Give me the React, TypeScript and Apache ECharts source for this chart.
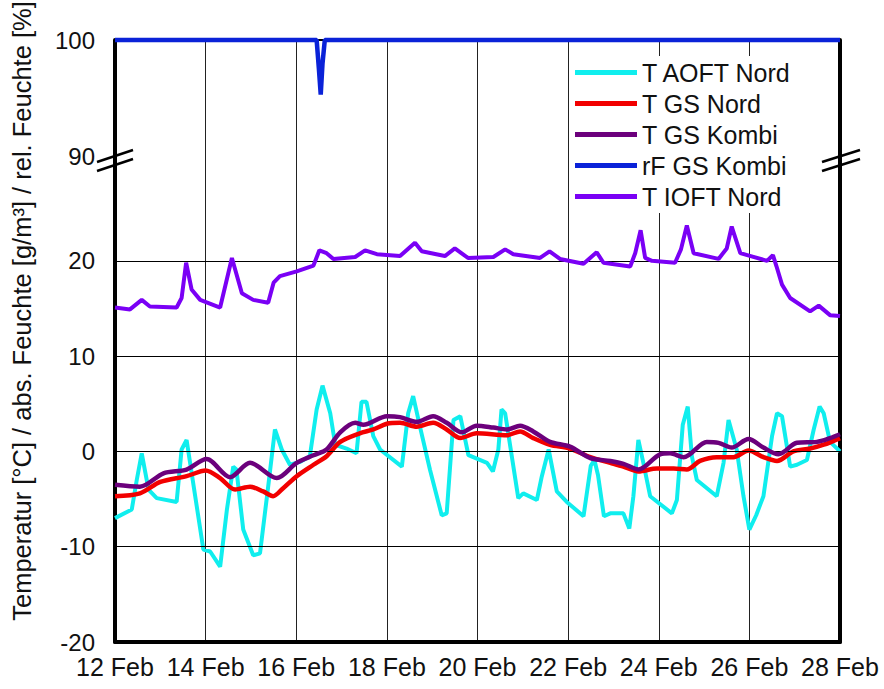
import { useEffect, useRef } from "react";
import * as echarts from "echarts";

const FONT = '"Liberation Sans", Arial, Helvetica, sans-serif';

// x axis: day of February
const dayMin = 12;
const dayMax = 28;
const dayStep = 2;

// y axis ranges (broken axis: upper part 90..100 %, lower part -20..~31)
const upperRange = [90, 100];
const lowerRange = [-20, 31];
const lowerGridValues = [-10, 0, 10, 20];

const seriesNames = ["T AOFT Nord", "T GS Nord", "T GS Kombi", "rF GS Kombi", "T IOFT Nord"];
const seriesColors = ["#10eeee", "#f20000", "#6c007c", "#0a22d8", "#7a00f5"];

const tAoftNord: [number, number][] = [
  [12.0, -7.0], [12.37, -6.1], [12.48, -3.0], [12.59, -0.2], [12.74, -4.0], [12.92, -4.9],
  [13.36, -5.3], [13.47, 0.2], [13.58, 1.2], [13.77, -4.7], [13.95, -10.3], [14.1, -10.5],
  [14.32, -12.1], [14.47, -6.1], [14.61, -1.6], [14.68, -1.9], [14.83, -8.2], [15.05, -10.9],
  [15.2, -10.7], [15.38, -3.7], [15.53, 2.3], [15.68, 0.2], [15.86, -1.4], [16.08, -1.1],
  [16.3, -0.5], [16.45, 4.4], [16.58, 6.9], [16.75, 4.0], [16.86, 0.7], [17.11, 0.3],
  [17.33, -0.2], [17.44, 5.2], [17.55, 5.2], [17.7, 1.6], [17.85, 0.2], [18.33, -1.6],
  [18.47, 4.0], [18.58, 5.8], [18.73, 2.6], [18.95, -1.9], [19.21, -6.7], [19.32, -6.5],
  [19.47, 3.3], [19.62, 3.7], [19.8, -0.4], [20.21, -1.2], [20.34, -2.1], [20.46, 0.2],
  [20.53, 4.4], [20.61, 4.0], [20.9, -4.9], [21.01, -4.4], [21.31, -5.1], [21.42, -2.6],
  [21.57, 0.2], [21.75, -4.2], [21.97, -5.3], [22.34, -6.8], [22.5, -1.5], [22.58, -0.9],
  [22.66, -2.5], [22.79, -6.8], [22.93, -6.5], [23.22, -6.5], [23.35, -8.1], [23.44, -4.7],
  [23.55, 1.2], [23.66, -1.2], [23.81, -4.7], [24.29, -6.5], [24.4, -5.1], [24.53, 2.8],
  [24.64, 4.7], [24.73, -0.5], [24.84, -3.0], [25.28, -4.7], [25.43, -1.2], [25.54, 3.3],
  [25.72, 0.2], [25.87, -4.7], [26.0, -8.2], [26.15, -6.7], [26.31, -4.7], [26.5, 1.6],
  [26.61, 4.0], [26.72, 3.7], [26.9, -1.6], [27.05, -1.4], [27.27, -0.9], [27.42, 2.3],
  [27.55, 4.7], [27.64, 4.0], [27.78, 1.0], [28.0, 0.0],
];

const tGsNord: [number, number][] = [
  [12.0, -4.7], [12.55, -4.4], [13.0, -3.2], [13.58, -2.6], [14.0, -2.0], [14.32, -2.8],
  [14.65, -4.0], [14.98, -3.7], [15.27, -4.2], [15.49, -4.7], [15.68, -4.0], [16.01, -2.6],
  [16.38, -1.4], [16.67, -0.5], [16.97, 1.0], [17.4, 1.9], [17.7, 2.3], [18.0, 2.9],
  [18.29, 3.0], [18.66, 2.6], [19.02, 3.0], [19.32, 2.3], [19.62, 1.4], [19.98, 1.9],
  [20.65, 1.7], [20.94, 2.1], [21.23, 1.4], [21.6, 0.7], [22.04, 0.3], [22.49, -0.6],
  [22.93, -1.2], [23.22, -1.6], [23.55, -2.1], [23.96, -1.8], [24.33, -1.8], [24.62, -1.9],
  [24.91, -1.0], [25.28, -0.6], [25.65, -0.6], [25.98, 0.1], [26.31, -0.6], [26.61, -1.0],
  [26.97, 0.0], [27.34, 0.3], [27.64, 0.7], [28.0, 1.4],
];

const tGsKombi: [number, number][] = [
  [12.0, -3.5], [12.55, -3.7], [13.07, -2.3], [13.58, -1.9], [14.02, -0.8], [14.54, -2.7],
  [14.98, -1.2], [15.57, -2.8], [16.01, -1.2], [16.38, -0.4], [16.67, 0.2], [16.97, 2.0],
  [17.3, 3.0], [17.48, 2.8], [18.0, 3.7], [18.29, 3.6], [18.66, 3.1], [19.02, 3.7],
  [19.32, 3.0], [19.65, 2.0], [19.98, 2.7], [20.35, 2.5], [20.65, 2.3], [20.94, 2.7],
  [21.23, 2.1], [21.6, 1.0], [22.04, 0.5], [22.49, -0.7], [22.93, -1.0], [23.22, -1.3],
  [23.55, -1.9], [24.03, -0.3], [24.25, -0.2], [24.55, -0.6], [25.06, 1.0], [25.32, 0.9],
  [25.61, 0.4], [25.98, 1.3], [26.31, 0.4], [26.64, -0.3], [27.05, 0.9], [27.49, 1.0],
  [27.78, 1.4], [28.0, 1.8],
];

const rfGsKombi: [number, number][] = [
  [12.0, 100], [16.45, 100], [16.5, 97.5], [16.54, 95.3], [16.58, 98], [16.63, 100], [28.0, 100],
];

const tIoftNord: [number, number][] = [
  [12.0, 15.1], [12.33, 14.9], [12.59, 15.9], [12.77, 15.2], [13.36, 15.1], [13.47, 16.1],
  [13.57, 19.8], [13.69, 17.0], [13.88, 15.9], [14.32, 15.1], [14.58, 20.3], [14.8, 16.6],
  [15.05, 15.9], [15.38, 15.6], [15.5, 17.7], [15.64, 18.4], [16.01, 18.9], [16.38, 19.5],
  [16.51, 21.1], [16.67, 20.8], [16.82, 20.2], [17.3, 20.4], [17.52, 21.1], [17.78, 20.7],
  [18.29, 20.5], [18.62, 21.9], [18.77, 21.0], [19.28, 20.5], [19.5, 21.3], [19.79, 20.3],
  [20.35, 20.4], [20.61, 21.2], [20.79, 20.7], [21.38, 20.3], [21.59, 21.0], [21.82, 20.2],
  [22.34, 19.7], [22.63, 20.9], [22.78, 19.8], [23.37, 19.4], [23.48, 20.8], [23.6, 23.2],
  [23.7, 20.3], [23.85, 20.0], [24.36, 19.8], [24.49, 21.2], [24.62, 23.7], [24.77, 20.8],
  [25.32, 20.2], [25.5, 21.3], [25.61, 23.6], [25.8, 20.8], [26.39, 20.0], [26.52, 20.6],
  [26.6, 19.4], [26.72, 17.5], [26.9, 16.1], [27.34, 14.7], [27.53, 15.3], [27.78, 14.3],
  [28.0, 14.2],
];

const yTitle = "Temperatur [°C] / abs. Feuchte [g/m³] / rel. Feuchte [%]";

export default function App() {
  const ref = useRef<HTMLDivElement>(null);

  useEffect(() => {
    if (!ref.current) return;
    const chart = echarts.init(ref.current, undefined, { renderer: "svg" });

    const labelStyle = { fontFamily: FONT, fontSize: 24, color: "#111" };
    const frameLine = { show: true, onZero: false, lineStyle: { color: "#000", width: 4 } };
    const vGrid = { show: true, lineStyle: { color: "#222", width: 1 } };

    const xBase = {
      type: "value" as const,
      min: dayMin,
      max: dayMax,
      interval: dayStep,
      axisTick: { show: false },
      splitLine: vGrid,
    };

    const lineSeries = (
      i: number,
      data: [number, number][],
      axis: number,
      smooth: number | boolean,
      width: number
    ) => ({
      name: seriesNames[i],
      type: "line" as const,
      xAxisIndex: axis,
      yAxisIndex: axis,
      data,
      showSymbol: false,
      symbol: "none",
      smooth,
      clip: false,
      color: seriesColors[i],
      lineStyle: { color: seriesColors[i], width },
      z: 3 + i,
    });

    chart.setOption({
      animation: false,
      backgroundColor: "#fff",
      grid: [
        { left: 115, right: 44, top: 40, height: 116 },
        { left: 115, right: 44, top: 156, bottom: 47 },
      ],
      xAxis: [
        {
          ...xBase,
          gridIndex: 0,
          position: "top",
          axisLine: { show: true, onZero: false, lineStyle: { color: "#000", width: 2 } },
          axisLabel: { show: false },
        },
        {
          ...xBase,
          gridIndex: 1,
          position: "bottom",
          axisLine: frameLine,
          axisLabel: {
            fontFamily: FONT,
            fontSize: 25,
            color: "#111",
            margin: 12,
            formatter: (v: number) => `${v} Feb`,
          },
        },
      ],
      yAxis: [
        {
          type: "value",
          gridIndex: 0,
          min: upperRange[0],
          max: upperRange[1],
          interval: 10,
          axisLine: frameLine,
          axisTick: { show: false },
          splitLine: { show: false },
          axisLabel: { ...labelStyle, margin: 20 },
        },
        {
          type: "value",
          gridIndex: 1,
          min: lowerRange[0],
          max: lowerRange[1],
          interval: 10,
          axisLine: frameLine,
          axisTick: { show: false },
          splitLine: { show: false },
          axisLabel: {
            ...labelStyle,
            margin: 20,
            showMaxLabel: false,
            formatter: (v: number) => (v > 25 ? "" : String(v)),
          },
        },
        {
          type: "value",
          gridIndex: 0,
          position: "right",
          min: upperRange[0],
          max: upperRange[1],
          interval: 10,
          axisLine: frameLine,
          axisTick: { show: false },
          axisLabel: { show: false },
          splitLine: { show: false },
        },
        {
          type: "value",
          gridIndex: 1,
          position: "right",
          min: lowerRange[0],
          max: lowerRange[1],
          interval: 10,
          axisLine: frameLine,
          axisTick: { show: false },
          axisLabel: { show: false },
          splitLine: { show: false },
        },
      ],
      legend: {
        data: seriesNames,
        orient: "vertical",
        left: 571,
        top: 56,
        icon: "rect",
        itemWidth: 62,
        itemHeight: 5,
        itemGap: 6,
        padding: [4, 14, 4, 4],
        backgroundColor: "#fff",
        textStyle: { fontFamily: FONT, fontSize: 25, color: "#111", lineHeight: 25 },
        z: 10,
      },
      series: [
        {
          name: "grid",
          type: "line",
          xAxisIndex: 1,
          yAxisIndex: 1,
          data: [],
          silent: true,
          z: 1,
          markLine: {
            silent: true,
            symbol: ["none", "none"],
            label: { show: false },
            lineStyle: { color: "#000", width: 1, type: "solid" },
            data: lowerGridValues.map((v) => ({ yAxis: v })),
          },
        },
        lineSeries(0, tAoftNord, 1, false, 4),
        lineSeries(1, tGsNord, 1, 0.3, 4.5),
        lineSeries(2, tGsKombi, 1, 0.3, 4.5),
        lineSeries(3, rfGsKombi, 0, false, 4.5),
        lineSeries(4, tIoftNord, 1, false, 4),
      ],
      graphic: [
        {
          type: "text",
          x: 22,
          y: 311,
          rotation: Math.PI / 2,
          style: {
            text: yTitle,
            font: `25.5px ${FONT}`,
            fill: "#111",
            align: "center",
            verticalAlign: "middle",
            textAlign: "center",
            textVerticalAlign: "middle",
          },
        },
        // axis break marks
        { type: "line", z: 20, shape: { x1: 97, y1: 162, x2: 133, y2: 150 }, style: { stroke: "#000", lineWidth: 2.5 } },
        { type: "line", z: 20, shape: { x1: 97, y1: 171, x2: 133, y2: 159 }, style: { stroke: "#000", lineWidth: 2.5 } },
        { type: "line", z: 20, shape: { x1: 822, y1: 162, x2: 860, y2: 150 }, style: { stroke: "#000", lineWidth: 2.5 } },
        { type: "line", z: 20, shape: { x1: 822, y1: 171, x2: 860, y2: 159 }, style: { stroke: "#000", lineWidth: 2.5 } },
      ],
    });

    return () => chart.dispose();
  }, []);

  return (
    <div
      ref={ref}
      style={{ position: "absolute", left: 0, top: 0, width: 884, height: 689, background: "#fff" }}
    />
  );
}
